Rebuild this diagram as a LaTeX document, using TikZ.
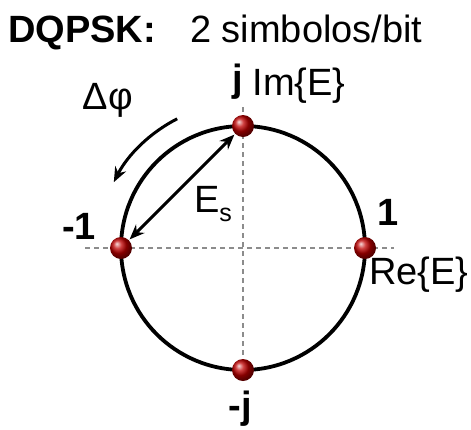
\documentclass[tikz,border=0pt]{standalone}
\usepackage{fontspec}
\setmainfont{Liberation Sans}
\usetikzlibrary{arrows.meta,positioning}

\begin{document}
\begin{tikzpicture}[x=1pt, y=-1pt, >={Stealth[length=15pt,width=12pt]}, every node/.style={inner sep=0pt},
    symbol/.style={circle, minimum size=22pt, shading=ball, ball color=red!75!black},
    lbl/.style={font=\fontsize{38}{42}\selectfont},
    lblbold/.style={font=\fontsize{38}{42}\selectfont\bfseries},
    axis/.style={gray!90, line width=1.3pt, dash pattern=on 5pt off 4pt}]
  \useasboundingbox (0,0) rectangle (471,429);
  % constellation points on the unit circle
  \coordinate (O) at (243,248);
  \coordinate (pj) at (243,126);
  \coordinate (pm1) at (121,248);
  \coordinate (p1) at (365,248);
  \coordinate (pmj) at (243,370);
  \coordinate (xl) at (85,248);
  \coordinate (xr) at (394,248);
  \coordinate (yt) at (243,107);
  \coordinate (yb) at (243,358);
  \draw[axis] (xl) -- (xr);
  \draw[axis] (yt) -- (yb);
  \draw[line width=3.8pt] (O) circle[radius=122];
  \node[symbol] (top) at (pj) {};
  \node[symbol] (left) at (pm1) {};
  \node[symbol] (right) at (p1) {};
  \node[symbol] (bottom) at (pmj) {};
  % energy and phase step
  \draw[<->, line width=3pt, shorten <=1pt, shorten >=1pt] (left) -- (top);
  \draw[->, line width=3pt] (O) ++(-117:145) arc[start angle=-117, end angle=-153, radius=145];
  % labels
  \node[lblbold, anchor=base west] (title) at (8,42) {DQPSK:};
  \node[lbl, anchor=base west] (rate) at (190,42) {2 simbolos/bit};
  \node[lblbold] (lj) at (238,82) {j};
  \node[lbl] (lim) at (299,86) {Im\{E\}};
  \node[lbl] (lphi) at (108,100) {Δφ};
  \node[lblbold] (lm1) at (79,226) {-1};
  \node[lbl] (les) at (213,204) {E\raisebox{-9pt}{\fontsize{25}{25}\selectfont s}};
  \node[lblbold] (l1) at (388,212) {1};
  \node[lbl] (lre) at (419,275) {Re\{E\}};
  \node[lblbold] (lmj) at (240,409) {-j};
\end{tikzpicture}
\end{document}
